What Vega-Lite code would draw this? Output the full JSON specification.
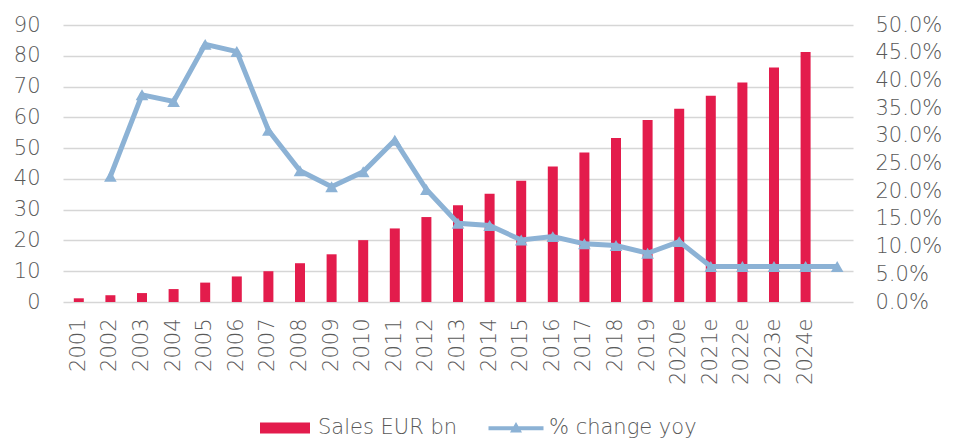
{
  "$schema": "https://vega.github.io/schema/vega-lite/v6.json",
  "width": 790,
  "height": 277,
  "autosize": {"type": "none"},
  "padding": {"left": 63, "top": 25, "right": 106, "bottom": 137},
  "config": {
    "view": {"stroke": null},
    "font": "DejaVu Sans",
    "axis": {
      "labelFont": "DejaVu Sans",
      "labelFontWeight": 200,
      "labelFontSize": 21,
      "labelColor": "#595959",
      "ticks": false,
      "domain": false,
      "title": null
    },
    "legend": {
      "labelFont": "DejaVu Sans",
      "labelFontWeight": 200,
      "labelFontSize": 21,
      "labelColor": "#595959"
    }
  },
  "data": {
    "values": [
      {"year": "2001", "sales": 1.2, "pct": null},
      {"year": "2002", "sales": 2.2, "pct": 0.227},
      {"year": "2003", "sales": 2.9, "pct": 0.374},
      {"year": "2004", "sales": 4.2, "pct": 0.362},
      {"year": "2005", "sales": 6.3, "pct": 0.465},
      {"year": "2006", "sales": 8.3, "pct": 0.452},
      {"year": "2007", "sales": 10.0, "pct": 0.31},
      {"year": "2008", "sales": 12.6, "pct": 0.237},
      {"year": "2009", "sales": 15.5, "pct": 0.208},
      {"year": "2010", "sales": 20.1, "pct": 0.235},
      {"year": "2011", "sales": 23.9, "pct": 0.292},
      {"year": "2012", "sales": 27.6, "pct": 0.203},
      {"year": "2013", "sales": 31.4, "pct": 0.142},
      {"year": "2014", "sales": 35.2, "pct": 0.138},
      {"year": "2015", "sales": 39.4, "pct": 0.112},
      {"year": "2016", "sales": 44.0, "pct": 0.118},
      {"year": "2017", "sales": 48.6, "pct": 0.105},
      {"year": "2018", "sales": 53.3, "pct": 0.102},
      {"year": "2019", "sales": 59.1, "pct": 0.088},
      {"year": "2020e", "sales": 62.8, "pct": 0.109},
      {"year": "2021e", "sales": 67.0, "pct": 0.064},
      {"year": "2022e", "sales": 71.3, "pct": 0.064},
      {"year": "2023e", "sales": 76.2, "pct": 0.064},
      {"year": "2024e", "sales": 81.2, "pct": 0.064},
      {"year": "2025e", "sales": null, "pct": 0.064}
    ]
  },
  "encoding": {
    "x": {
      "field": "year",
      "type": "ordinal",
      "sort": null,
      "scale": {"paddingInner": 0, "paddingOuter": 0},
      "axis": {
        "labelAngle": -90,
        "labelPadding": 16,
        "labelExpr": "datum.value == '2025e' ? '' : datum.value"
      }
    }
  },
  "layer": [
    {
      "mark": {"type": "bar", "size": 10},
      "encoding": {
        "y": {
          "field": "sales",
          "type": "quantitative",
          "scale": {"domain": [0, 90]},
          "axis": {
            "values": [0, 10, 20, 30, 40, 50, 60, 70, 80, 90],
            "labelPadding": 23,
            "grid": true,
            "gridColor": "#d6d6d6",
            "gridWidth": 1.5
          }
        },
        "color": {
          "datum": "Sales EUR bn",
          "scale": {
            "domain": ["Sales EUR bn", "% change yoy"],
            "range": ["#e31c4c", "#8cb2d5"]
          },
          "legend": {
            "title": null,
            "orient": "none",
            "legendX": 197,
            "legendY": 378,
            "direction": "horizontal",
            "columnPadding": 30,
            "labelOffset": 8,
            "symbolSize": 2500,
            "symbolStrokeWidth": 0,
            "symbolOpacity": 1,
            "encode": {
              "symbols": {
                "update": {
                  "shape": {"signal": "datum.value === 'Sales EUR bn' ? 'M-1,-0.22L1,-0.22L1,0.22L-1,0.22Z' : 'M-1.1,-0.07L1.1,-0.07L1.1,0.09L-1.1,0.09Z M-0.24,0.18L0,-0.24L0.24,0.18Z'"},
                  "fill": {"signal": "scale('color', datum.value)"},
                  "stroke": {"value": "transparent"},
                  "strokeWidth": {"value": 0},
                  "opacity": {"value": 1}
                }
              }
            }
          }
        }
      }
    },
    {
      "mark": {
        "type": "line",
        "strokeWidth": 5,
        "point": {"shape": "triangle-up", "size": 160, "filled": true}
      },
      "encoding": {
        "y": {
          "field": "pct",
          "type": "quantitative",
          "scale": {"domain": [0, 0.5]},
          "axis": {
            "orient": "right",
            "format": ".1%",
            "values": [0, 0.05, 0.1, 0.15, 0.2, 0.25, 0.3, 0.35, 0.4, 0.45, 0.5],
            "labelPadding": 22,
            "grid": false
          }
        },
        "color": {"datum": "% change yoy"}
      }
    }
  ],
  "resolve": {"scale": {"y": "independent"}}
}
